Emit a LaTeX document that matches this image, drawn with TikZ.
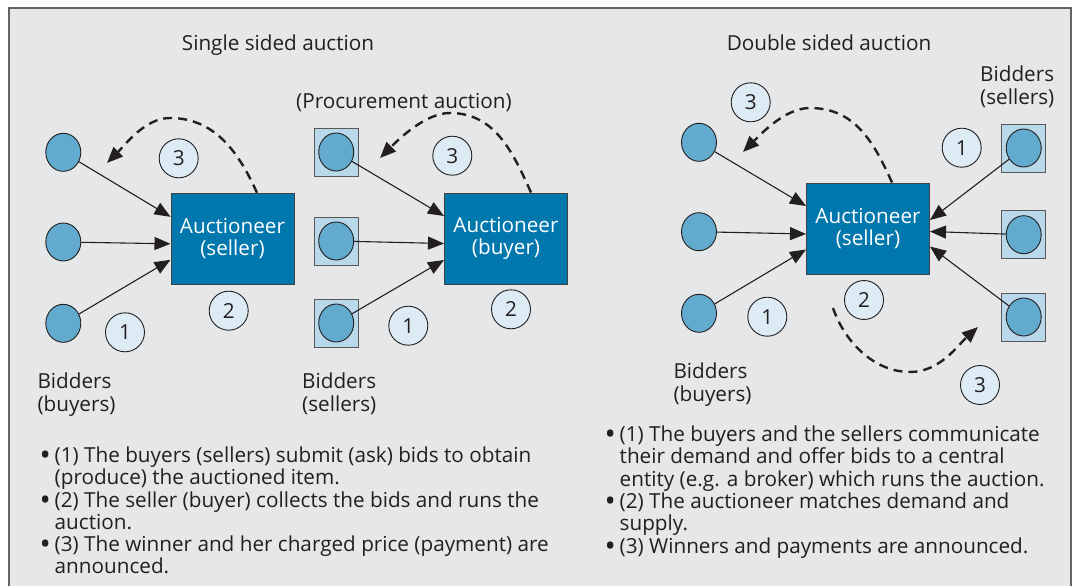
\documentclass[tikz,border=0pt]{standalone}
\usepackage{fontspec}
\setmainfont{Open Sans}
\usetikzlibrary{arrows.meta,shapes.geometric,calc}
\definecolor{bg}{HTML}{E6E7E8}
\definecolor{boxblue}{HTML}{0077AD}
\definecolor{dotblue}{HTML}{63AACF}
\definecolor{sqblue}{HTML}{B9D8EA}
\definecolor{numfill}{HTML}{DDEBF5}
\definecolor{ink}{HTML}{231F20}
\newcommand{\bigbul}{\raisebox{-3pt}{\scalebox{1.45}{•}}}
\tikzset{
  every node/.style={font=\fontsize{20.7}{22}\selectfont, text=ink},
  bidder/.style={ellipse, draw=ink, fill=dotblue, minimum width=35pt, minimum height=38pt, inner sep=0pt, line width=0.9pt},
  sqbox/.style={rectangle, draw=ink!75, fill=sqblue, minimum width=44pt, minimum height=48pt, inner sep=0pt, line width=0.9pt},
  auct/.style={rectangle, draw=ink!85, fill=boxblue, minimum width=123pt, minimum height=91pt, text=white, align=center, inner sep=0pt, line width=1pt},
  num/.style={circle, draw=ink, fill=numfill, minimum size=39pt, inner sep=0pt, line width=0.9pt},
  bid/.style={-{Triangle[length=16pt,width=13pt]}, line width=1.1pt, draw=ink},
  ret/.style={-{Triangle[length=16pt,width=13pt]}, line width=2.4pt, dash pattern=on 9pt off 6pt, draw=ink},
  lbl/.style={anchor=north west, inner sep=0pt, align=left},
  ttl/.style={anchor=base, inner sep=0pt},
}
\begin{document}
\begin{tikzpicture}[x=1pt,y=1pt]
\clip (0,0) rectangle (1074,-586);
\fill[white] (0,0) rectangle (1074,-586);
\draw[ink!70, line width=1.2pt, fill=bg] (9,-8) rectangle (1071,-620);

% titles
\node[ttl] (t1) at (278,-51) {Single sided auction};
\node[ttl] (t2) at (829,-51) {Double sided auction};
\node[ttl] (t3) at (404,-109) {(Procurement auction)};

% ---------- panel 1 ----------
\node[auct] (b1) at (232.5,-238.8) {Auctioneer\\(seller)};
\node[bidder] (p1a) at (63.3,-152.3) {};
\node[bidder] (p1b) at (63.3,-242) {};
\node[bidder] (p1c) at (63.3,-323.3) {};
\node[num] (n13) at (178.7,-158.3) {3};
\node[num] (n12) at (228.7,-310.7) {2};
\node[num] (n11) at (125,-332.3) {1};
\draw[bid] (p1a) -- ([yshift=22pt]b1.west);
\draw[bid] (p1b) -- ([yshift=-5pt]b1.west);
\draw[bid] (p1c) -- ([yshift=-21pt]b1.west);
\coordinate (r1s) at ([xshift=24.5pt]b1.north);
\coordinate (r1p) at (170,-118);
\coordinate (r1e) at (107,-163);
\draw[ret] (r1s) .. controls +(-18,40) and +(45,0) .. (r1p)
  .. controls +(-25,0) and +(18,18) .. (r1e);
\node[lbl] (l1) at (37.3,-372.6) {\strut Bidders\\(buyers)};

% ---------- panel 2 ----------
\node[auct] (b2) at (506,-238.5) {Auctioneer\\(buyer)};
\node[sqbox] (q2a) at (336.2,-152) {};
\node[sqbox] (q2b) at (336.2,-241) {};
\node[sqbox] (q2c) at (336.2,-323) {};
\node[bidder] (p2a) at (q2a) {};
\node[bidder] (p2b) at (q2b) {};
\node[bidder] (p2c) at (q2c) {};
\node[num] (n23) at (452.3,-155.7) {3};
\node[num] (n22) at (511,-309.3) {2};
\node[num] (n21) at (408.3,-325.7) {1};
\draw[bid] (p2a) -- ([yshift=22.5pt]b2.west);
\draw[bid] (p2b) -- ([yshift=-5pt]b2.west);
\draw[bid] (p2c) -- ([yshift=-21.5pt]b2.west);
\coordinate (r2s) at ([xshift=25pt]b2.north);
\coordinate (r2p) at (450,-113);
\coordinate (r2e) at (380,-158);
\draw[ret] (r2s) .. controls +(-18,40) and +(45,0) .. (r2p)
  .. controls +(-25,0) and +(18,18) .. (r2e);
\node[lbl] (l2) at (302,-372.6) {\strut Bidders\\(sellers)};

% ---------- panel 3 ----------
\node[auct] (b3) at (868,-228.5) {Auctioneer\\(seller)};
\node[bidder] (p3a) at (699,-142.3) {};
\node[bidder] (p3b) at (699,-231.7) {};
\node[bidder] (p3c) at (699,-313.3) {};
\node[sqbox] (q3a) at (1023.7,-148) {};
\node[sqbox] (q3b) at (1023.7,-234.7) {};
\node[sqbox] (q3c) at (1023.7,-317) {};
\node[bidder] (s3a) at (q3a) {};
\node[bidder] (s3b) at (q3b) {};
\node[bidder] (s3c) at (q3c) {};
\node[num] (n33t) at (750.7,-102.3) {3};
\node[num] (n31r) at (961.7,-147.7) {1};
\node[num] (n32) at (864,-300) {2};
\node[num] (n31l) at (767.3,-316.7) {1};
\node[num] (n33b) at (980,-385) {3};
\draw[bid] (p3a) -- ([yshift=22.5pt]b3.west);
\draw[bid] (p3b) -- ([yshift=-5.5pt]b3.west);
\draw[bid] (p3c) -- ([yshift=-21pt]b3.west);
\draw[bid] (s3a) -- ([yshift=8.5pt]b3.east);
\draw[bid] (s3b) -- ([yshift=-3pt]b3.east);
\draw[bid] (s3c) -- ([yshift=-18pt]b3.east);
\coordinate (r3s) at ([xshift=24pt]b3.north);
\coordinate (r3p) at (810,-108);
\coordinate (r3e) at (743,-152);
\draw[ret] (r3s) .. controls +(-18,40) and +(45,0) .. (r3p)
  .. controls +(-25,0) and +(18,18) .. (r3e);
\coordinate (d3s) at (833,-308);
\coordinate (d3p) at (910,-372);
\coordinate (d3e) at (978,-327);
\draw[ret] (d3s) .. controls +(12,-35) and +(-35,0) .. (d3p)
  .. controls +(30,0) and +(-20,-18) .. (d3e);
\node[lbl] (l3) at (673.3,-362.3) {\strut Bidders\\(buyers)};
\node[lbl] (l4) at (980,-65.3) {\strut Bidders\\(sellers)};

% ---------- bullet texts ----------
\node[lbl] (tx1) at (39.5,-446.6) {%
\begin{tabular}{@{}p{15pt}@{}l@{}}
\bigbul & (1) The buyers (sellers) submit (ask) bids to obtain\\
  & (produce) the auctioned item.\\
\bigbul & (2) The seller (buyer) collects the bids and runs the\\
  & auction.\\
\bigbul & (3) The winner and her charged price (payment) are\\
  & announced.
\end{tabular}};
\node[lbl] (tx2) at (604.5,-425.6) {%
\begin{tabular}{@{}p{15pt}@{}l@{}}
\bigbul & (1) The buyers and the sellers communicate\\
  & their demand and offer bids to a central\\
  & entity (e.g. a broker) which runs the auction.\\
\bigbul & (2) The auctioneer matches demand and\\
  & supply.\\
\bigbul & (3) Winners and payments are announced.
\end{tabular}};
\end{tikzpicture}
\end{document}
